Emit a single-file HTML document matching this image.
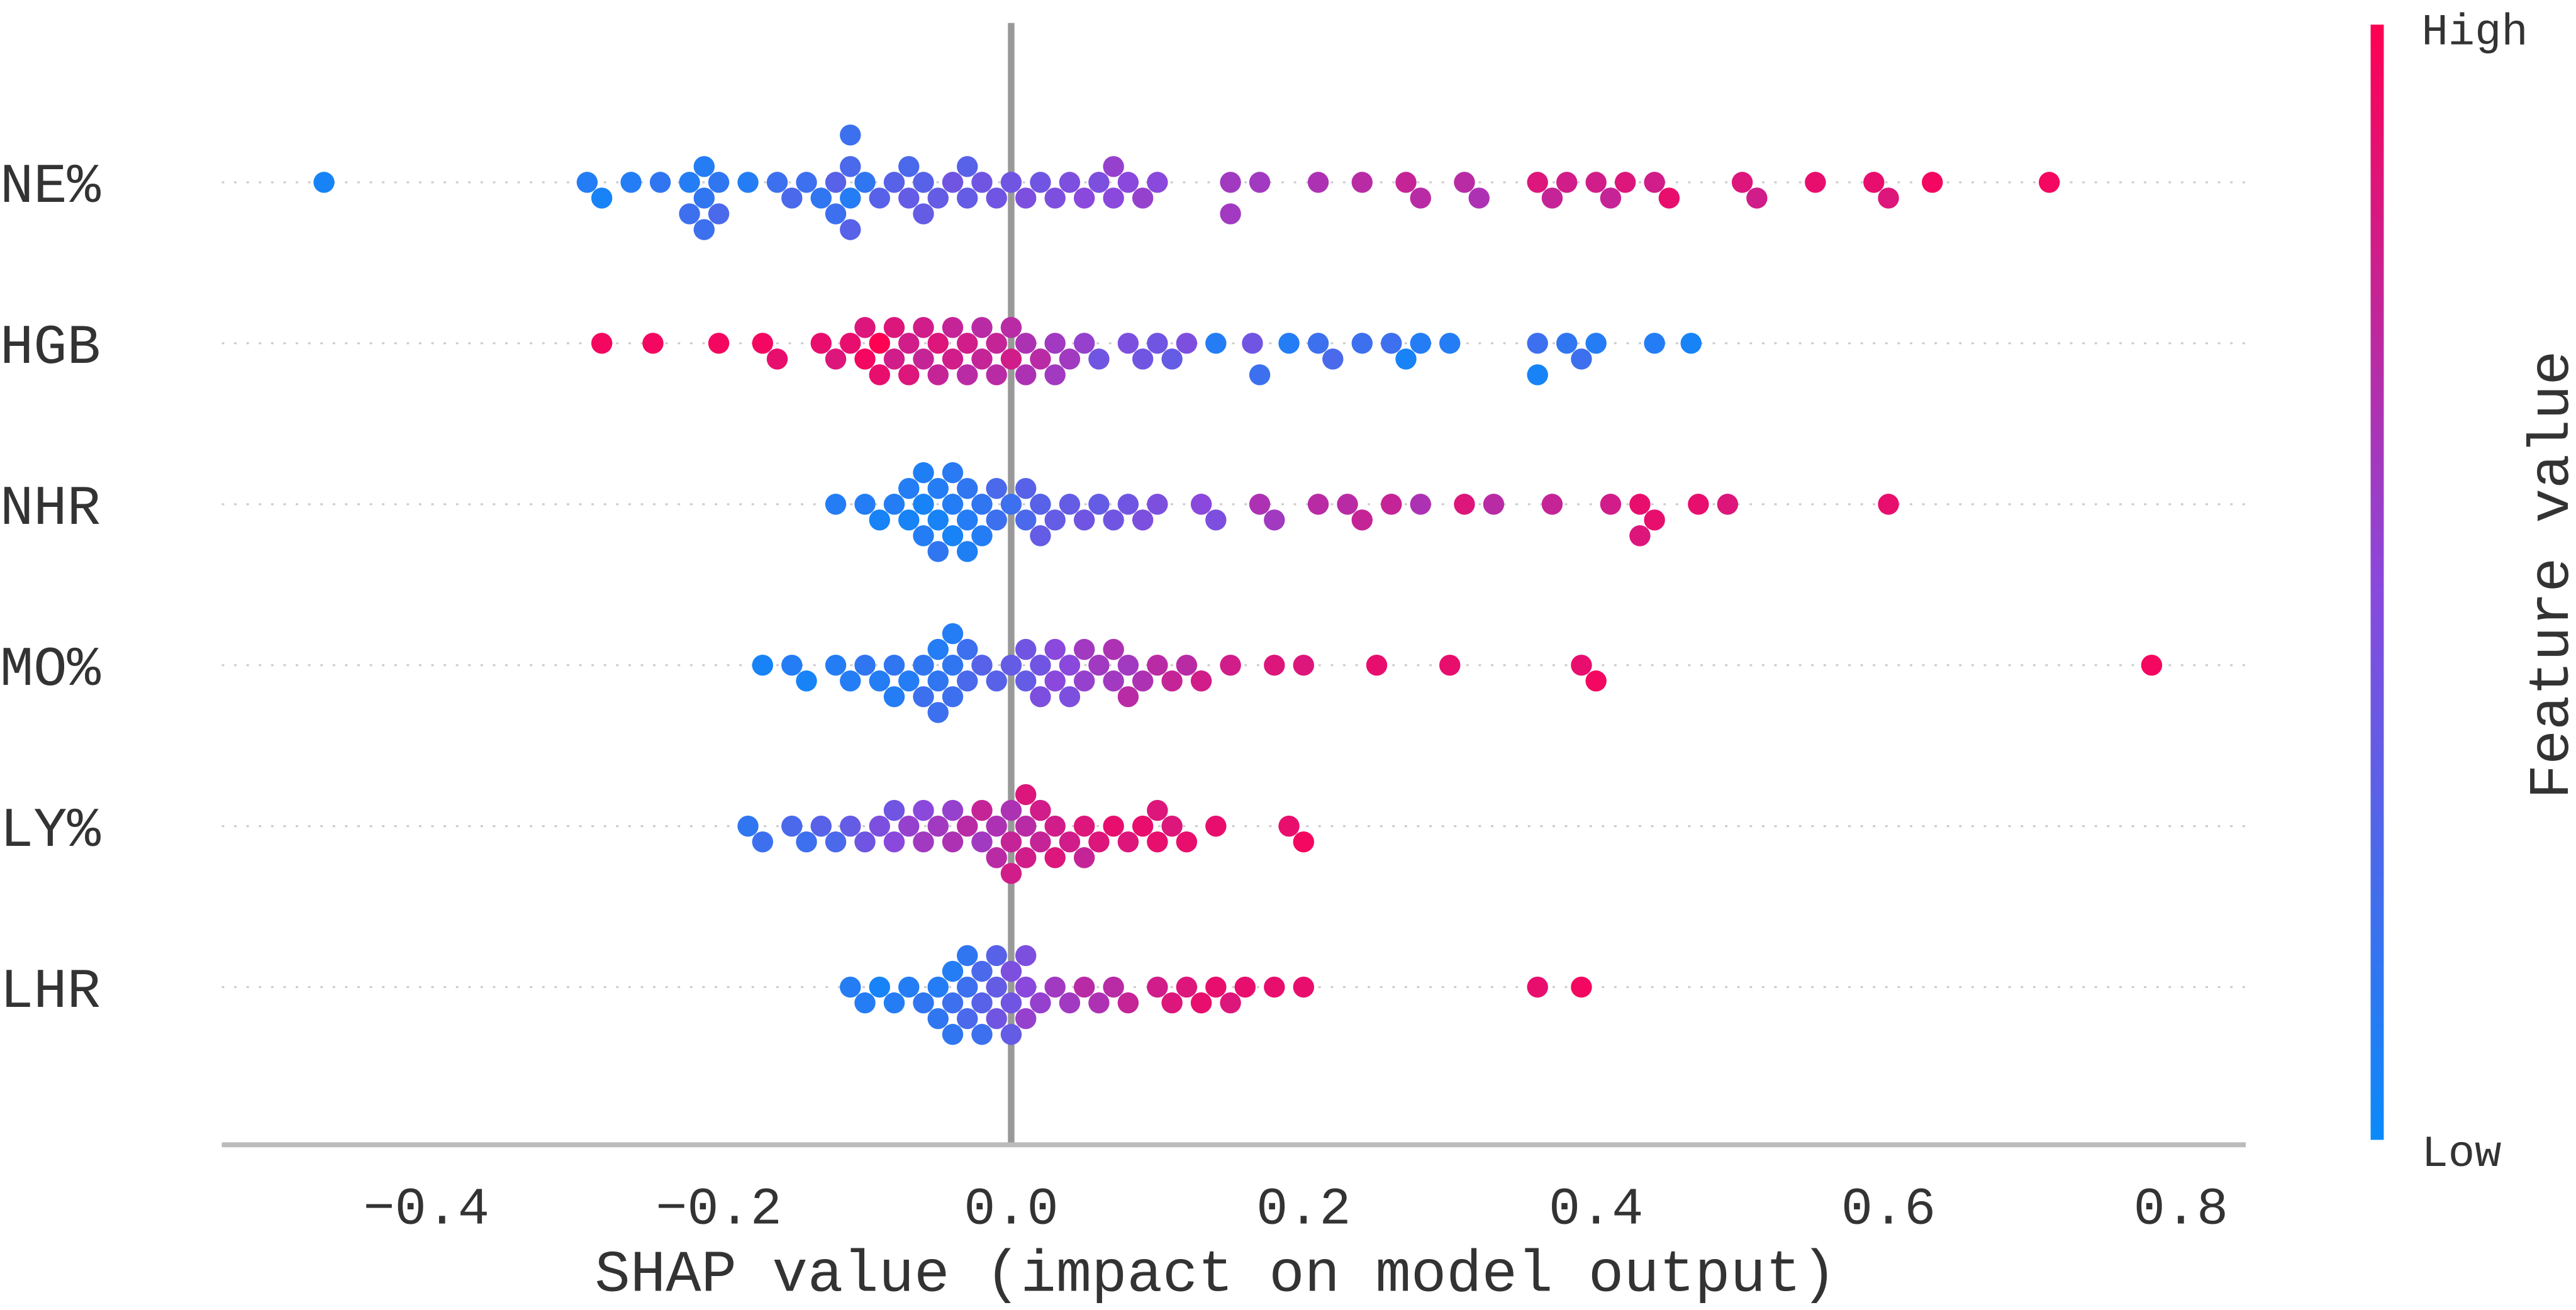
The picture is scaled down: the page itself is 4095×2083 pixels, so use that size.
<!DOCTYPE html>
<html><head><meta charset="utf-8"><style>
html,body{margin:0;padding:0;background:#fff;}
svg{display:block;}
text{font-family:"Liberation Mono","Noto Serif CJK SC",monospace;fill:#333;}
</style></head><body>
<svg id="chart" width="4095" height="2083" viewBox="0 0 1568 797.6" xmlns="http://www.w3.org/2000/svg">
<defs><linearGradient id="cb" x1="0" y1="1" x2="0" y2="0">
<stop offset="0" stop-color="#0a8afa"/><stop offset="0.5" stop-color="#8a48dc"/><stop offset="1" stop-color="#ff0052"/></linearGradient></defs>
<g id="grid"></g>
<line x1="615.5" y1="14" x2="615.5" y2="697" stroke="#999" stroke-width="4"/>
<g id="dots"></g>
<line x1="135" y1="697" x2="1367" y2="697" stroke="#bbb" stroke-width="3"/>
<g id="ticks"></g>
<g id="labels"></g>
<text x="740" y="786" font-size="36" text-anchor="middle">SHAP value (impact on model output)</text>
<rect x="1443" y="15" width="8" height="679" fill="url(#cb)"/>
<text x="1474" y="27" font-size="27">High</text>
<text x="1474" y="710" font-size="27">Low</text>
<text transform="translate(1563,350) rotate(-90)" font-size="35" text-anchor="middle">Feature value</text>
</svg>
<script>
const features = ["NE%","HGB","NHR","MO%","LY%","LHR"];
const tickValues = [-0.4,-0.2,0.0,0.2,0.4,0.6,0.8];
const tickLabels = ["\u22120.4","\u22120.2","0.0","0.2","0.4","0.6","0.8"];
const shapNE = [-0.47,-0.29,-0.28,-0.26,-0.24,-0.22,-0.22,-0.21,-0.21,-0.21,-0.2,-0.2,-0.18,-0.16,-0.15,-0.14,-0.13,-0.12,-0.12,-0.11,-0.11,-0.11,-0.11,-0.1,-0.09,-0.08,-0.07,-0.07,-0.06,-0.06,-0.05,-0.04,-0.03,-0.03,-0.02,-0.01,0.0,0.01,0.02,0.03,0.04,0.05,0.06,0.07,0.07,0.08,0.09,0.1,0.15,0.15,0.17,0.21,0.24,0.27,0.28,0.31,0.32,0.36,0.37,0.38,0.4,0.41,0.42,0.44,0.45,0.5,0.51,0.55,0.59,0.6,0.63,0.71];
const featNE = [0.05,0.1,0.05,0.1,0.15,0.1,0.2,0.15,0.1,0.2,0.15,0.25,0.1,0.2,0.25,0.2,0.15,0.3,0.2,0.1,0.25,0.3,0.2,0.15,0.3,0.3,0.35,0.25,0.3,0.35,0.35,0.4,0.35,0.3,0.4,0.4,0.4,0.45,0.4,0.45,0.45,0.5,0.45,0.5,0.55,0.5,0.55,0.5,0.6,0.6,0.6,0.65,0.7,0.75,0.7,0.7,0.65,0.85,0.75,0.8,0.8,0.75,0.85,0.8,0.9,0.85,0.8,0.9,0.9,0.85,0.95,0.95];
const shapHGB = [-0.28,-0.245,-0.2,-0.17,-0.16,-0.13,-0.12,-0.11,-0.1,-0.1,-0.09,-0.09,-0.08,-0.08,-0.07,-0.07,-0.06,-0.06,-0.05,-0.05,-0.04,-0.04,-0.03,-0.03,-0.02,-0.02,-0.01,-0.01,0.0,0.0,0.01,0.01,0.02,0.03,0.03,0.04,0.05,0.06,0.08,0.09,0.1,0.11,0.12,0.14,0.165,0.17,0.19,0.21,0.22,0.24,0.26,0.27,0.28,0.3,0.36,0.36,0.38,0.39,0.4,0.44,0.465];
const featHGB = [0.95,0.95,0.95,0.95,0.9,0.9,0.85,0.9,0.95,0.85,1.0,0.9,0.8,0.85,0.8,0.85,0.75,0.8,0.85,0.75,0.8,0.75,0.8,0.7,0.75,0.7,0.75,0.7,0.8,0.7,0.65,0.65,0.7,0.6,0.6,0.6,0.55,0.4,0.45,0.4,0.4,0.35,0.45,0.1,0.4,0.2,0.1,0.2,0.25,0.2,0.2,0.05,0.1,0.1,0.2,0.05,0.15,0.2,0.1,0.1,0.05];
const shapNHR = [-0.12,-0.1,-0.09,-0.08,-0.07,-0.07,-0.06,-0.06,-0.06,-0.05,-0.05,-0.05,-0.04,-0.04,-0.04,-0.03,-0.03,-0.03,-0.02,-0.02,-0.01,-0.01,0.0,0.01,0.01,0.02,0.02,0.03,0.04,0.05,0.06,0.07,0.08,0.09,0.1,0.13,0.14,0.17,0.18,0.21,0.23,0.24,0.26,0.28,0.31,0.33,0.37,0.41,0.43,0.43,0.44,0.47,0.49,0.6];
const featNHR = [0.1,0.1,0.05,0.1,0.05,0.1,0.05,0.1,0.08,0.05,0.1,0.15,0.1,0.05,0.12,0.1,0.15,0.08,0.15,0.1,0.2,0.25,0.2,0.25,0.3,0.3,0.35,0.35,0.35,0.4,0.35,0.4,0.4,0.45,0.45,0.5,0.45,0.65,0.6,0.7,0.7,0.75,0.75,0.65,0.85,0.7,0.75,0.8,0.9,0.85,0.9,0.9,0.85,0.9];
const shapMO = [-0.17,-0.15,-0.14,-0.12,-0.11,-0.1,-0.09,-0.08,-0.08,-0.07,-0.06,-0.06,-0.05,-0.05,-0.05,-0.04,-0.04,-0.04,-0.03,-0.03,-0.02,-0.01,0.0,0.01,0.01,0.02,0.02,0.03,0.03,0.04,0.04,0.05,0.05,0.06,0.07,0.07,0.08,0.08,0.09,0.1,0.11,0.12,0.13,0.15,0.18,0.2,0.25,0.3,0.39,0.4,0.78];
const featMO = [0.05,0.1,0.05,0.1,0.1,0.15,0.1,0.15,0.1,0.1,0.15,0.2,0.15,0.1,0.2,0.15,0.2,0.1,0.25,0.2,0.3,0.3,0.35,0.35,0.4,0.4,0.45,0.5,0.5,0.5,0.45,0.55,0.6,0.6,0.6,0.65,0.6,0.7,0.65,0.7,0.75,0.7,0.8,0.8,0.85,0.85,0.9,0.9,0.9,0.95,0.95];
const shapLY = [-0.18,-0.17,-0.15,-0.14,-0.13,-0.12,-0.11,-0.1,-0.09,-0.08,-0.08,-0.07,-0.06,-0.06,-0.05,-0.04,-0.04,-0.03,-0.02,-0.02,-0.01,-0.01,0.0,0.0,0.0,0.01,0.01,0.01,0.02,0.02,0.03,0.03,0.04,0.05,0.05,0.06,0.07,0.08,0.09,0.1,0.1,0.11,0.12,0.14,0.19,0.2];
const featLY = [0.15,0.2,0.25,0.2,0.3,0.25,0.35,0.4,0.45,0.5,0.4,0.55,0.6,0.5,0.6,0.65,0.55,0.7,0.6,0.75,0.65,0.7,0.75,0.65,0.8,0.7,0.8,0.85,0.75,0.8,0.8,0.85,0.8,0.85,0.75,0.85,0.9,0.85,0.9,0.9,0.85,0.85,0.9,0.9,0.9,0.95];
const shapLHR = [-0.11,-0.1,-0.09,-0.08,-0.07,-0.06,-0.05,-0.05,-0.04,-0.04,-0.04,-0.03,-0.03,-0.03,-0.02,-0.02,-0.02,-0.01,-0.01,-0.01,0.0,0.0,0.0,0.01,0.01,0.01,0.02,0.03,0.04,0.05,0.06,0.07,0.08,0.1,0.11,0.12,0.13,0.14,0.15,0.16,0.18,0.2,0.36,0.39];
const featLHR = [0.1,0.1,0.05,0.1,0.1,0.15,0.1,0.15,0.2,0.1,0.15,0.2,0.25,0.15,0.3,0.25,0.2,0.35,0.4,0.3,0.4,0.45,0.35,0.5,0.55,0.45,0.55,0.6,0.6,0.7,0.65,0.7,0.75,0.8,0.85,0.85,0.9,0.9,0.85,0.9,0.9,0.9,0.9,0.95];
const shapRows = [shapNE,shapHGB,shapNHR,shapMO,shapLY,shapLHR];
const featRows = [featNE,featHGB,featNHR,featMO,featLY,featLHR];

const NS="http://www.w3.org/2000/svg";
const xScale = v => 615.5 + v*890;
const yRow = i => 111 + i*98;
const R=6.4;
function lerp(a,b,t){return a+(b-a)*t;}
function color(t){
  const s=[[10,138,250],[138,72,220],[255,0,82]];
  let a,b,u; if(t<0.5){a=s[0];b=s[1];u=t/0.5;}else{a=s[1];b=s[2];u=(t-0.5)/0.5;}
  return `rgb(${Math.round(lerp(a[0],b[0],u))},${Math.round(lerp(a[1],b[1],u))},${Math.round(lerp(a[2],b[2],u))})`;
}
const grid=document.getElementById('grid'), dots=document.getElementById('dots'), labels=document.getElementById('labels'), ticks=document.getElementById('ticks');
features.forEach((f,i)=>{
  const y=yRow(i);
  const gl=document.createElementNS(NS,'line');
  
  
  gl.setAttribute('x1',135);gl.setAttribute('x2',1367);gl.setAttribute('y1',y);gl.setAttribute('y2',y);
  gl.setAttribute('stroke','#ccc');gl.setAttribute('stroke-width','1.2');gl.setAttribute('stroke-dasharray','1.5 6');
  grid.appendChild(gl);
  const t=document.createElementNS(NS,'text');
  
  
  t.setAttribute('x',0);t.setAttribute('y',y+12);t.setAttribute('font-size','34');
  t.textContent=f; labels.appendChild(t);
  const xs=shapRows[i], fs=featRows[i];
  const order=xs.map((v,k)=>k).sort((a,b)=>xs[a]-xs[b]);
  const placed=[];
  order.forEach(k=>{
    const px=xScale(xs[k]);
    let off=0;
    for(let n=0;n<20;n++){
      const cand=(n%2? 1:-1)*Math.ceil(n/2)*(R*1.5);
      const ok=placed.every(p=>Math.hypot(p[0]-px,p[1]-cand)>=R*1.7);
      if(ok){off=cand;break;}
    }
    placed.push([px,off]);
    const c=document.createElementNS(NS,'circle');
    
    
    c.setAttribute('cx',px);c.setAttribute('cy',y+off);c.setAttribute('r',R);
    c.setAttribute('fill',color(fs[k]));
    dots.appendChild(c);
  });
});
tickValues.forEach((v,i)=>{
  const t=document.createElementNS(NS,'text');
  
  
  t.setAttribute('x',xScale(v));t.setAttribute('y',745);t.setAttribute('font-size','32');t.setAttribute('text-anchor','middle');
  t.textContent=tickLabels[i]; ticks.appendChild(t);
});
</script>
</body></html>
